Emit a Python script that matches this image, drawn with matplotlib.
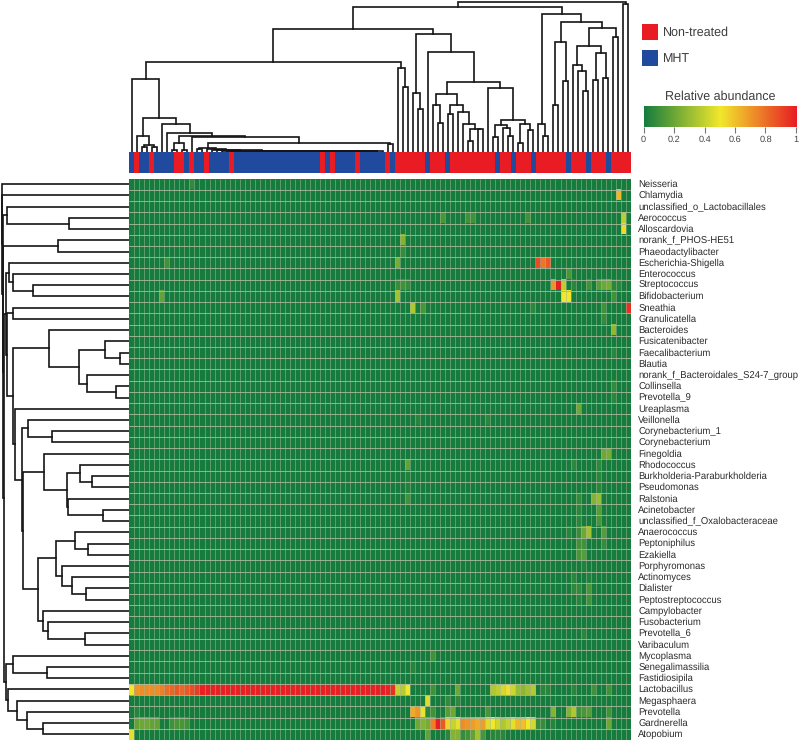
import numpy as np
import matplotlib
matplotlib.use("Agg")
import matplotlib.pyplot as plt
from matplotlib.colors import LinearSegmentedColormap, ListedColormap

plt.rcParams['font.family'] = ['Liberation Sans', 'DejaVu Sans']
plt.rcParams['text.hinting'] = 'none'

W, H = 800, 742

genera = ["Neisseria", "Chlamydia", "unclassified_o_Lactobacillales", "Aerococcus", "Alloscardovia",
          "norank_f_PHOS-HE51", "Phaeodactylibacter", "Escherichia-Shigella", "Enterococcus", "Streptococcus",
          "Bifidobacterium", "Sneathia", "Granulicatella", "Bacteroides", "Fusicatenibacter",
          "Faecalibacterium", "Blautia", "norank_f_Bacteroidales_S24-7_group", "Collinsella", "Prevotella_9",
          "Ureaplasma", "Veillonella", "Corynebacterium_1", "Corynebacterium", "Finegoldia",
          "Rhodococcus", "Burkholderia-Paraburkholderia", "Pseudomonas", "Ralstonia", "Acinetobacter",
          "unclassified_f_Oxalobacteraceae", "Anaerococcus", "Peptoniphilus", "Ezakiella", "Porphyromonas",
          "Actinomyces", "Dialister", "Peptostreptococcus", "Campylobacter", "Fusobacterium",
          "Prevotella_6", "Varibaculum", "Mycoplasma", "Senegalimassilia", "Fastidiosipila",
          "Lactobacillus", "Megasphaera", "Prevotella", "Gardnerella", "Atopobium"]

# samples (by column) that are not MHT in the left half, MHT ones in the right half
non_treated_left = [1, 4, 9, 10, 12, 15, 20, 38, 40, 45]
mht_right = [52, 59, 63, 73, 76, 80, 87, 91, 95]

# the few cells that are not plain green, {column: relative abundance}
lactobacillus_left = [0.50, 0.70, 0.72, 0.72, 0.72, 0.72, 0.75, 0.80, 0.82, 0.85, 0.82, 0.85, 0.88, 0.92]
lactobacillus_right = {50: 1.0, 51: 0.98, 52: 0.95, 53: 0.40, 54: 0.37, 55: 0.50, 60: 0.10, 65: 0.20,
                       72: 0.35, 73: 0.38, 74: 0.43, 75: 0.52, 76: 0.42, 77: 0.30, 78: 0.27, 79: 0.32,
                       80: 0.36, 82: 0.05, 83: 0.05, 88: 0.05, 92: 0.10, 95: 0.10}
gardnerella = {1: 0.18, 2: 0.20, 3: 0.20, 4: 0.18, 5: 0.18, 8: 0.10, 9: 0.12, 10: 0.12, 11: 0.10,
               57: 0.20, 58: 0.25, 59: 0.22, 60: 0.75, 61: 1.0, 62: 0.85, 63: 0.55, 64: 0.40, 65: 0.47,
               66: 0.72, 67: 0.70, 68: 0.68, 69: 0.65, 70: 0.68, 71: 0.45, 72: 0.50, 73: 0.42, 74: 0.35,
               75: 0.40, 76: 0.47, 77: 0.62, 78: 0.60, 79: 0.50, 80: 0.43, 81: 0.08, 82: 0.08, 84: 0.04,
               95: 0.20}
prevotella = {1: 0.04, 56: 0.65, 57: 0.70, 58: 0.48, 59: 0.05, 60: 0.10, 63: 0.15, 64: 0.20, 71: 0.12,
              84: 0.25, 87: 0.25, 88: 0.35, 89: 0.10, 90: 0.12, 91: 0.15, 95: 0.10}
atopobium = {0: 0.47, 59: 0.18, 63: 0.05, 64: 0.25, 65: 0.25, 66: 0.08, 67: 0.10, 68: 0.18, 69: 0.32,
             70: 0.12, 72: 0.05, 73: 0.05, 74: 0.05}
streptococcus = {53: 0.08, 54: 0.10, 55: 0.08, 84: 0.70, 85: 1.0, 86: 0.38, 88: 0.05, 91: 0.10, 93: 0.15,
                 94: 0.20, 95: 0.22, 96: 0.05, 97: 0.05}
bifidobacterium = {6: 0.18, 53: 0.32, 86: 0.50, 87: 0.50, 96: 0.10}
escherichia = {7: 0.10, 53: 0.22, 81: 0.88, 82: 0.78, 83: 0.85}
sneathia = {56: 0.35, 58: 0.12, 80: 0.06, 94: 0.10, 99: 0.95}
aerococcus = {62: 0.12, 67: 0.10, 68: 0.10, 79: 0.10, 98: 0.38}
other_rows = {"Neisseria": {12: 0.07}, "Chlamydia": {97: 0.62}, "Alloscardovia": {98: 0.53},
              "norank_f_PHOS-HE51": {54: 0.25}, "Phaeodactylibacter": {54: 0.08}, "Enterococcus": {87: 0.12},
              "Granulicatella": {94: 0.08}, "Bacteroides": {96: 0.28}, "Faecalibacterium": {96: 0.05},
              "Collinsella": {96: 0.07}, "Prevotella_9": {96: 0.05}, "Ureaplasma": {89: 0.20},
              "Veillonella": {57: 0.04, 71: 0.05}, "Finegoldia": {94: 0.20, 95: 0.22},
              "Rhodococcus": {55: 0.18, 88: 0.06, 93: 0.06}, "Burkholderia-Paraburkholderia": {55: 0.03, 93: 0.05},
              "Pseudomonas": {55: 0.03, 93: 0.05}, "Ralstonia": {55: 0.10, 89: 0.07, 92: 0.25, 93: 0.30},
              "Acinetobacter": {89: 0.05, 93: 0.15}, "unclassified_f_Oxalobacteraceae": {89: 0.05, 93: 0.12},
              "Anaerococcus": {87: 0.04, 89: 0.08, 90: 0.20, 91: 0.32, 94: 0.15},
              "Peptoniphilus": {89: 0.10, 90: 0.10, 94: 0.08}, "Ezakiella": {89: 0.12, 90: 0.15},
              "Porphyromonas": {90: 0.03}, "Actinomyces": {88: 0.05, 91: 0.03},
              "Dialister": {88: 0.06, 89: 0.07, 91: 0.12}, "Peptostreptococcus": {89: 0.04, 91: 0.10},
              "Prevotella_6": {90: 0.05}, "Mycoplasma": {60: 0.10}, "Senegalimassilia": {56: 0.04},
              "Megasphaera": {59: 0.45, 63: 0.07, 65: 0.06}}

# dendrograms as [merge height, left, right], leaves are column / row numbers
low_chain = 0.3
chain_tail = [low_chain, 20, 21]
for leaf in range(22, 51):
    chain_tail = [low_chain, chain_tail, leaf]
for leaf, height in zip([19, 18, 17, 16, 15], [0.6, 1.0, 1.4, 1.9, 2.4]):
    chain_tail = [height, leaf, chain_tail]

mht_cluster = [72.4, 0, [34, [16, 1, [6.7, [4.7, 2, 3], [4.7, 4, 5]]],
                         [27.4, 6, [19, 7, [15.7, [8.4, [1.7, 8, 9], [1.7, 10, 11]],
                                            [15, 12, [9, [3.4, [2.4, 13, 14], chain_tail], [7.4, 51, 52]]]]]]]]
mid_cluster = [117.7, [59, 56, [43, 57, 58]],
               [99.4, 59, [69.4,
                           [57.4, [46.4, 60, [28.7, 61, 62]],
                            [46.7, [37.7, 63, 64],
                             [40, 65, [27.4, 66, [23, [11, 67, 68], [23, 69, 70]]]]]],
                           [64, 71, [31.4,
                                     [26.7, [14.4, 72, 73], [23.4, 74, [16, 75, 76]]],
                                     [27.4, [8.4, 77, 78], [21.7, 79, 80]]]]]]]
right_cluster = [138, [27.4, 81, [15.7, 82, 83]],
                 [129.7, [110, [46.7, 84, 85], [71, 86, 87]],
                  [123.7, [106, [87, 88, [81, 89, [60.7, 90, 91]]],
                           [99, [72, 92, 93], [74, 94, 95]]],
                   [115, 96, 97]]]]
col_tree = [149.7, [144.4, [122.7, [90, mht_cluster, [83.4, 53, [64.4, 54, 55]]], mid_cluster], right_cluster],
            [147.7, 98, 99]]

rows_21_41 = [107.3, [101, 21, [77.7, 22, 23]],
              [106, [85, 24, [62.7, [49.3, 25, [37, 26, 27]], [61, 28, [26.7, 29, 30]]]],
               [91, [73.3, [54, 31, [41, 32, 33]], [67.7, 34, [57, 35, [43.7, 36, 37]]]],
                [86, 38, [81.7, 39, [44.3, 40, 41]]]]]]
rows_13_41 = [116, [80.7, 13, [50, [24, 14, [9.3, 15, 16]], [42, 17, [13.3, 18, 19]]]],
              [114.3, 20, rows_21_41]]
rows_7_41 = [123.3, [120, 7, [116.7, 8, [96, 9, 10]]], [122.3, [116, 11, 12], rows_13_41]]
rows_42_49 = [123.7, [116, 42, [82.7, 43, 44]], [121, 45, [112.7, 46, [102.7, 47, [86.7, 48, 49]]]]]
row_tree = [127.7, 0, [127.2, 1, [126.8, [122, 2, [60.3, 3, 4]],
                                  [126.3, [71, 5, 6], [125.2, rows_7_41, rows_42_49]]]]]

colorbar_ticks = [0, 0.2, 0.4, 0.6, 0.8, 1]
colorbar_labels = ["0", "0.2", "0.4", "0.6", "0.8", "1"]

# colours
GREEN_RED = LinearSegmentedColormap.from_list("gyr", ["#157c3e", "#f2e82c", "#e81c24"])
RED = "#e91c24"
BLUE = "#1f4a9e"

# build the matrix
abundance = np.zeros((len(genera), 100))
abundance[genera.index("Lactobacillus"), 14:50] = 0.985
abundance[genera.index("Lactobacillus"), :len(lactobacillus_left)] = lactobacillus_left
named_rows = {"Lactobacillus": lactobacillus_right, "Gardnerella": gardnerella, "Prevotella": prevotella,
              "Atopobium": atopobium, "Streptococcus": streptococcus, "Bifidobacterium": bifidobacterium,
              "Escherichia-Shigella": escherichia, "Sneathia": sneathia, "Aerococcus": aerococcus}
for name, cells in {**named_rows, **other_rows}.items():
    for col, value in cells.items():
        abundance[genera.index(name), col] = value

groups = np.ones(100)
groups[:51] = 0
groups[non_treated_left] = 1
groups[mht_right] = 0


def ax_px(left, top, right, bottom):
    # axes placed by picture pixels
    return fig.add_axes([left / W, 1 - bottom / H, (right - left) / W, (bottom - top) / H])


def draw_tree(ax, node, horizontal=False):
    # returns (position, height) of the node
    if not isinstance(node, list):
        return node + 0.5, 0
    p1, h1 = draw_tree(ax, node[1], horizontal)
    p2, h2 = draw_tree(ax, node[2], horizontal)
    xs, ys = [p1, p1, p2, p2], [h1, node[0], node[0], h2]
    if horizontal:
        xs, ys = ys, xs
    ax.plot(xs, ys, color="#151515", lw=1.2, solid_joinstyle="miter", solid_capstyle="projecting")
    return (p1 + p2) / 2, node[0]


fig = plt.figure(figsize=(W / 100, H / 100), dpi=100)

# heatmap
hm_left, hm_right, hm_top, hm_bottom = 129.3, 630.7, 178.6, 740
ax = ax_px(hm_left, hm_top, hm_right, hm_bottom)
ax.imshow(abundance, cmap=GREEN_RED, vmin=0, vmax=1, aspect="auto", interpolation="nearest",
          extent=(0, 100, 50, 0))
ax.vlines(np.arange(1, 100), 0, 50, color="#a3b699", lw=0.6, alpha=0.6)
ax.hlines(np.arange(1, 50), 0, 100, color="#a9ba9f", lw=0.75, alpha=0.85)
ax.set_xlim(0, 100)
ax.set_ylim(50, 0)
ax.axis("off")

for i, name in enumerate(genera):
    ax.annotate(name, xy=(hm_right + 7.5, H - (hm_top + (hm_bottom - hm_top) * (i + 0.5) / 50) - 0.3),
                xycoords="figure pixels", ha="left", va="center", fontsize=6.85, color="#2b2b2b")

# sample group bar
ax_bar = ax_px(hm_left, 151.7, hm_right, 173)
ax_bar.imshow(groups[None, :], cmap=ListedColormap([BLUE, RED]), aspect="auto", interpolation="nearest",
              vmin=0, vmax=1, extent=(0, 100, 0, 1))
ax_bar.axis("off")

# column dendrogram
ax_top = ax_px(hm_left, 0, hm_right, 151.7)
draw_tree(ax_top, col_tree)
ax_top.set_xlim(0, 100)
ax_top.set_ylim(0, 151.7)
ax_top.axis("off")

# row dendrogram
ax_side = ax_px(0, hm_top, hm_left, hm_bottom)
draw_tree(ax_side, row_tree, horizontal=True)
ax_side.set_xlim(hm_left, 0)
ax_side.set_ylim(50, 0)
ax_side.axis("off")

# legend
ax_leg = ax_px(0, 0, W, H)
ax_leg.set_xlim(0, W)
ax_leg.set_ylim(H, 0)
ax_leg.axis("off")
ax_leg.patch.set_alpha(0)
for y0, colour, label in [(24, RED, "Non-treated"), (50, BLUE, "MHT")]:
    ax_leg.add_patch(plt.Rectangle((642, y0), 16, 16, facecolor=colour, edgecolor="none"))
    ax_leg.text(663, y0 + 8.8, label, ha="left", va="center", fontsize=9, color="#3c3c3c")
ax_leg.text(720, 96.8, "Relative abundance", ha="center", va="center", fontsize=9, color="#3c3c3c")

# colour bar
ax_cb = ax_px(643.5, 105.7, 796, 126.7)
ax_cb.imshow(np.linspace(0, 1, 256)[None, :], cmap=GREEN_RED, aspect="auto", extent=(0, 1, 0, 1))
ax_cb.set_yticks([])
ax_cb.set_xticks(colorbar_ticks, colorbar_labels)
ax_cb.tick_params(axis="x", length=4, width=0.8, color="#777777", labelsize=6.6, labelcolor="#444444", pad=2.5)
for spine in ax_cb.spines.values():
    spine.set_visible(False)

fig.savefig("out.png", dpi=100)
